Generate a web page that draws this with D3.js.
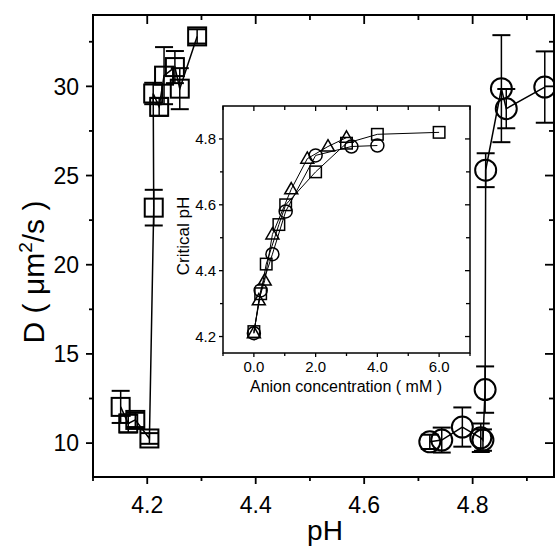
<!DOCTYPE html>
<html><head><meta charset="utf-8">
<script src="https://cdn.jsdelivr.net/npm/d3@7"></script>
<style>body{margin:0;background:#fff}svg{display:block}text{font-family:"Liberation Sans",Arial,sans-serif}</style>
</head><body>
<svg id="c" width="555" height="546"></svg>
<script>
// Main chart: squares series
const sqPH  = [4.151, 4.165, 4.178, 4.204, 4.212, 4.211, 4.222, 4.231, 4.251, 4.260, 4.292];
const sqD   = [12.03, 11.10, 11.30, 10.26, 23.20, 29.60, 28.85, 30.60, 31.08, 29.87, 32.80];
const sqErr = [0.9, 0.5, 0.4, 0.3, 1.0, 0.6, 0.5, 1.6, 0.9, 1.15, 0.4];
// Main chart: circles series
const ciPH  = [4.721, 4.743, 4.781, 4.815, 4.819, 4.823, 4.824, 4.853, 4.862, 4.933];
const ciD   = [10.07, 10.17, 10.90, 10.30, 10.17, 13.00, 25.30, 29.87, 28.75, 29.96];
const ciErr = [0.4, 0.7, 1.1, 0.8, 0.6, 1.3, 0.95, 3.0, 1.1, 2.0];
const xTicks = [4.2, 4.4, 4.6, 4.8];
const yTicks = [10, 15, 20, 25, 30];
// Inset: critical pH vs anion concentration
const inSqC = [0, 0.22, 0.40, 0.81, 1.03, 2.0, 3.0, 4.0, 6.0];
const inSqP = [4.215, 4.33, 4.42, 4.54, 4.60, 4.70, 4.787, 4.814, 4.82];
const inCiC = [0, 0.22, 0.60, 1.03, 2.0, 3.16, 4.0];
const inCiP = [4.21, 4.34, 4.45, 4.58, 4.75, 4.777, 4.78];
const inTrC = [0, 0.16, 0.35, 0.60, 1.21, 1.73, 2.4, 3.0];
const inTrP = [4.21, 4.31, 4.37, 4.51, 4.647, 4.74, 4.777, 4.804];
const inXTicks = [0, 2, 4, 6];
const inYTicks = [4.2, 4.4, 4.6, 4.8];

const svg = d3.select("#c");
const L = 93, R = 554, T = 15, B = 477;
const x = d3.scaleLinear().domain([4.1, 4.95]).range([L, R]);
const y = d3.scaleLinear().domain([8.1, 34]).range([B, T]);

function axes(g, xs, ys, o) {
  const xMaj = o.xMaj, xMin = o.xMin, yMaj = o.yMaj, yMin = o.yMin;
  const [x0, x1] = xs.range(), [y0, y1] = ys.range();
  g.append("rect").attr("x", x0).attr("y", y1).attr("width", x1 - x0).attr("height", y0 - y1)
    .attr("fill", o.fill || "none").attr("stroke", "#000").attr("stroke-width", o.sw);
  const tk = (x1_, y1_, x2_, y2_) => g.append("line").attr("x1", x1_).attr("y1", y1_).attr("x2", x2_).attr("y2", y2_)
    .attr("stroke", "#000").attr("stroke-width", o.tw);
  xMaj.forEach(v => { const p = xs(v); tk(p, y0, p, y0 + o.maj); tk(p, y1, p, y1 + o.majIn); });
  xMin.forEach(v => { const p = xs(v); tk(p, y0, p, y0 + o.min); tk(p, y1, p, y1 + o.minIn); });
  yMaj.forEach(v => { const p = ys(v); tk(x0, p, x0 - o.maj, p); tk(x1, p, x1 - o.majIn, p); });
  yMin.forEach(v => { const p = ys(v); tk(x0, p, x0 - o.min, p); tk(x1, p, x1 - o.minIn, p); });
  g.selectAll(null).data(xMaj).enter().append("text")
    .attr("x", d => xs(d)).attr("y", y0 + o.xlOff).attr("text-anchor", "middle")
    .attr("font-size", o.fs).text(o.xfmt);
  g.selectAll(null).data(yMaj).enter().append("text")
    .attr("x", x0 - o.ylOff).attr("y", d => ys(d)).attr("dy", "0.36em").attr("text-anchor", "end")
    .attr("font-size", o.fs).text(o.yfmt);
}

axes(svg.append("g"), x, y, {
  xMaj: xTicks, xMin: [4.1, 4.3, 4.5, 4.7, 4.9], yMaj: yTicks, yMin: [12.5, 17.5, 22.5, 27.5, 32.5],
  sw: 2, tw: 1.8, maj: 7, min: 4, majIn: 9, minIn: 5, xlOff: 36, ylOff: 14, fs: 23,
  xfmt: d => d.toFixed(1), yfmt: d => d
});

svg.append("text").attr("x", 325).attr("y", 540).attr("text-anchor", "middle")
  .attr("font-size", 28).text("pH");
const yl = svg.append("text").attr("transform", "translate(44,272) rotate(-90)").attr("text-anchor", "middle")
  .attr("font-size", 30);
yl.append("tspan").text("D ( ");
yl.append("tspan").text("μm");
yl.append("tspan").attr("font-size", 19).attr("dy", -12).text("2");
yl.append("tspan").attr("dy", 12).text("/s )");

function series(g, xs, ys, X, Y, E, shape, size, sw, lw, cap) {
  const pts = X.map((v, i) => ({ x: v, y: Y[i], e: E ? E[i] : 0 }));
  g.append("path").datum(pts).attr("fill", "none").attr("stroke", "#000").attr("stroke-width", lw)
    .attr("d", d3.line().x(d => xs(d.x)).y(d => ys(d.y)));
  if (E) {
    pts.forEach(d => {
      const px = xs(d.x);
      g.append("line").attr("x1", px).attr("x2", px).attr("y1", ys(d.y - d.e)).attr("y2", ys(d.y + d.e))
        .attr("stroke", "#000").attr("stroke-width", lw);
      [d.y - d.e, d.y + d.e].forEach(v => g.append("line").attr("x1", px - cap).attr("x2", px + cap)
        .attr("y1", ys(v)).attr("y2", ys(v)).attr("stroke", "#000").attr("stroke-width", sw));
    });
  }
  const m = g.selectAll(null).data(pts).enter();
  if (shape === "square") {
    m.append("rect").attr("x", d => xs(d.x) - size / 2).attr("y", d => ys(d.y) - size / 2)
      .attr("width", size).attr("height", size).attr("fill", "none").attr("stroke", "#000").attr("stroke-width", sw);
  } else if (shape === "circle") {
    m.append("circle").attr("cx", d => xs(d.x)).attr("cy", d => ys(d.y)).attr("r", size / 2)
      .attr("fill", "none").attr("stroke", "#000").attr("stroke-width", sw);
  } else {
    const h = size * 0.87;
    m.append("path").attr("d", d => {
      const cx = xs(d.x), cy = ys(d.y);
      return `M${cx},${cy - h * 0.6}L${cx + size / 2},${cy + h * 0.4}L${cx - size / 2},${cy + h * 0.4}Z`;
    }).attr("fill", "none").attr("stroke", "#000").attr("stroke-width", sw);
  }
}

const gm = svg.append("g");
series(gm, x, y, sqPH, sqD, sqErr, "square", 18, 2, 1.5, 9);
series(gm, x, y, ciPH, ciD, ciErr, "circle", 21, 2, 1.5, 9);

// Inset
const ix = d3.scaleLinear().domain([-1, 7]).range([223, 470]);
const iy = d3.scaleLinear().domain([4.15, 4.9]).range([353, 106]);
const gi = svg.append("g");
axes(gi, ix, iy, {
  xMaj: inXTicks, xMin: [-1, 1, 3, 5, 7], yMaj: inYTicks, yMin: [4.3, 4.5, 4.7],
  sw: 1.5, tw: 1.3, maj: 4, min: 3, majIn: 5, minIn: 4, xlOff: 19, ylOff: 7, fs: 15, fill: "#fff",
  xfmt: d => d.toFixed(1), yfmt: d => d.toFixed(1)
});
gi.append("text").attr("x", 346).attr("y", 392).attr("text-anchor", "middle").attr("font-size", 16)
  .text("Anion concentration ( mM )");
gi.append("text").attr("transform", "translate(189,236) rotate(-90)").attr("text-anchor", "middle")
  .attr("font-size", 17).text("Critical pH");
series(gi, ix, iy, inSqC, inSqP, null, "square", 11.5, 1.5, 1, 0);
series(gi, ix, iy, inCiC, inCiP, null, "circle", 13, 1.5, 1, 0);
series(gi, ix, iy, inTrC, inTrP, null, "triangle", 13, 1.5, 1, 0);
</script>
</body></html>
